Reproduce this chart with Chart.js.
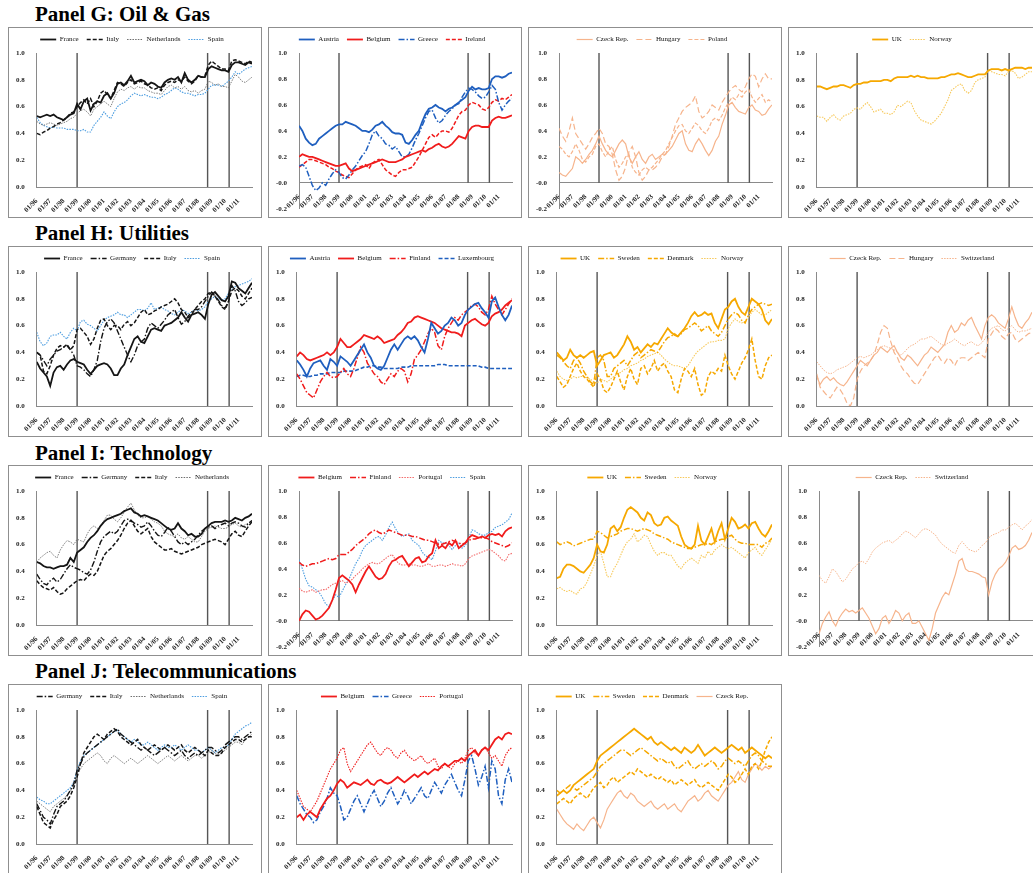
<!DOCTYPE html>
<html>
<head>
<meta charset="utf-8">
<script src="https://cdn.jsdelivr.net/npm/chart.js@4.4.1/dist/chart.umd.min.js"></script>
<style>
body{margin:0;background:#fff;width:1033px;height:873px;overflow:hidden;position:relative;font-family:"Liberation Serif",serif}
.title{position:absolute;left:35px;font-weight:bold;font-size:21px;color:#000;white-space:nowrap}
.box{position:absolute;width:254px;height:191px;border:1px solid #8f8f8f;box-sizing:border-box;background:#fff}
.box canvas{display:block}
</style>
</head>
<body>
<div class="title" style="top:2px">Panel G: Oil &amp; Gas</div>
<div class="title" style="top:221px">Panel H: Utilities</div>
<div class="title" style="top:441px">Panel I: Technology</div>
<div class="title" style="top:659px">Panel J: Telecommunications</div>

<div class="box" style="left:8px;top:27px"><canvas id="g1" width="252" height="189"></canvas></div>
<div class="box" style="left:268px;top:27px"><canvas id="g2" width="252" height="189"></canvas></div>
<div class="box" style="left:528px;top:27px"><canvas id="g3" width="252" height="189"></canvas></div>
<div class="box" style="left:788px;top:27px"><canvas id="g4" width="252" height="189"></canvas></div>
<div class="box" style="left:8px;top:246px"><canvas id="h1" width="252" height="189"></canvas></div>
<div class="box" style="left:268px;top:246px"><canvas id="h2" width="252" height="189"></canvas></div>
<div class="box" style="left:528px;top:246px"><canvas id="h3" width="252" height="189"></canvas></div>
<div class="box" style="left:788px;top:246px"><canvas id="h4" width="252" height="189"></canvas></div>
<div class="box" style="left:8px;top:465px"><canvas id="i1" width="252" height="189"></canvas></div>
<div class="box" style="left:268px;top:465px"><canvas id="i2" width="252" height="189"></canvas></div>
<div class="box" style="left:528px;top:465px"><canvas id="i3" width="252" height="189"></canvas></div>
<div class="box" style="left:788px;top:465px"><canvas id="i4" width="252" height="189"></canvas></div>
<div class="box" style="left:8px;top:684px"><canvas id="j1" width="252" height="189"></canvas></div>
<div class="box" style="left:268px;top:684px"><canvas id="j2" width="252" height="189"></canvas></div>
<div class="box" style="left:528px;top:684px"><canvas id="j3" width="252" height="189"></canvas></div>

<script>
//quarterly observations, 01/96 .. 01/12 (years since 01/96)
var quarters = [];
for (var q = 0; q <= 64; q++) { quarters.push(q / 4); }
var yearLabels = ["01/96","01/97","01/98","01/99","01/00","01/01","01/02","01/03","01/04","01/05","01/06","01/07","01/08","01/09","01/10","01/11"];
//01/99 euro, 09/08 Lehman, 04/10 Greek crisis
var eventDates = [3, 12.7, 14.3];

//- PANEL G: OIL & GAS -
var goFrance = [.53,.52,.53,.54, .53,.54,.52,.51, .50,.52,.54,.55, .62,.58,.64,.66, .57,.62,.64,.63, .68,.70,.66,.70, .77,.78,.76,.79, .83,.78,.79,.80, .79,.76,.78,.77, .75,.74,.78,.80, .81,.80,.82,.78, .85,.80,.78,.80, .83,.82,.82,.88, .90,.89,.88,.87, .87,.86,.91,.93, .93,.92,.91,.93, .92];
var goItaly = [.40,.39,.41,.42, .44,.45,.47,.48, .50,.52,.55,.56, .60,.63,.65,.62, .66,.60,.64,.70, .72,.69,.66,.72, .78,.77,.75,.78, .80,.77,.78,.79, .77,.76,.74,.73, .74,.72,.76,.78, .79,.78,.80,.79, .82,.79,.77,.79, .83,.82,.83,.91, .94,.92,.90,.88, .88,.87,.94,.95, .94,.93,.92,.94, .93];
var goNetherlands = [.49,.47,.46,.47, .48,.47,.46,.47, .48,.49,.51,.52, .55,.57,.58,.56, .53,.58,.60,.62, .64,.62,.60,.66, .71,.73,.72,.74, .75,.73,.75,.74, .74,.72,.71,.70, .70,.69,.72,.75, .76,.74,.75,.73, .75,.72,.71,.72, .70,.72,.73,.79, .78,.76,.77,.75, .75,.74,.79,.84, .82,.79,.78,.80, .82];
var goSpain = [.52,.48,.46,.45, .44,.45,.44,.44, .44,.43,.43,.43, .42,.42,.43,.41, .41,.46,.49,.52, .56,.53,.51,.56, .60,.62,.63,.65, .68,.70,.69,.68, .69,.68,.67,.67, .66,.67,.69,.70, .72,.74,.73,.71, .70,.70,.69,.68, .69,.69,.70,.73, .76,.76,.76,.75, .77,.79,.82,.86, .84,.86,.88,.89, .90];
var goAustria = [.44,.40,.34,.31, .29,.30,.34,.36, .38,.40,.42,.44, .45,.45,.47,.46, .45,.44,.42,.40, .40,.39,.41,.44, .45,.47,.44,.42, .39,.38,.38,.37, .31,.30,.33,.37, .40,.47,.53,.57, .58,.60,.58,.57, .55,.57,.58,.60, .62,.64,.66,.71, .74,.72,.73,.72, .72,.73,.80,.82, .82,.81,.82,.84, .85];
var goBelgium = [.20,.22,.21,.20, .20,.19,.18,.17, .16,.15,.14,.13, .13,.14,.15,.11, .09,.10,.11,.12, .13,.14,.15,.16, .17,.18,.17,.16, .16,.16,.17,.18, .20,.21,.22,.23, .24,.25,.24,.26, .27,.29,.30,.28, .27,.28,.30,.33, .36,.35,.34,.40, .43,.44,.44,.43, .43,.43,.48,.50, .51,.50,.50,.51, .52];
var goGreece = [.13,.14,.12,.05, -.02,-.06,-.04,.00, -.02,.03,.07,.10, .08,.04,.03,.06, .10,.13,.17,.21, .24,.30,.37,.40, .36,.34,.30,.29, .26,.28,.24,.20, .20,.22,.27,.33, .38,.44,.50,.55, .56,.50,.46,.48, .52,.55,.57,.60, .61,.66,.70,.73, .72,.70,.67,.65, .66,.70,.75,.72, .62,.56,.60,.63, .65];
var goIreland = [.12,.14,.16,.18, .18,.17,.16,.15, .14,.12,.11,.09, .08,.06,.05,.04, .07,.10,.12,.13, .14,.11,.15,.17, .18,.14,.10,.08, .06,.05,.08,.10, .10,.11,.12,.16, .20,.25,.30,.35, .37,.35,.38,.40, .40,.39,.42,.47, .52,.55,.56,.60, .62,.61,.60,.57, .56,.58,.62,.64, .63,.65,.64,.66, .68];
var goCzech = [.08,.06,.05,.08, .11,.20,.18,.15, .18,.22,.25,.30, .36,.30,.25,.22, .20,.25,.30,.33, .30,.20,.15,.20, .24,.18,.15,.20, .22,.18,.20,.22, .22,.25,.28,.33, .38,.40,.30,.25, .24,.30,.34,.30, .25,.21,.25,.32, .36,.45,.52,.60, .62,.58,.55,.54, .53,.58,.60,.56, .55,.52,.53,.57, .60];
var goHungary = [.42,.36,.32,.40, .50,.38,.34,.30, .26,.30,.35,.38, .42,.38,.30,.28, .22,.10,.02,.05, .12,.24,.28,.20, .08,.02,.05,.10, .10,.12,.15,.20, .22,.28,.36,.45, .50,.55,.58,.60, .62,.67,.55,.50, .52,.55,.60,.58, .56,.62,.66,.70, .73,.75,.72,.70, .74,.80,.84,.82, .74,.80,.84,.80, .80];
var goPoland = [.28,.26,.22,.20, .24,.30,.25,.18, .16,.20,.22,.28, .30,.24,.20,.25, .28,.18,.12,.15, .20,.22,.12,.08, .06,.10,.12,.10, .12,.15,.18,.22, .25,.30,.35,.40, .44,.45,.40,.38, .42,.46,.44,.40, .38,.42,.48,.50, .48,.52,.58,.62, .66,.64,.68,.66, .70,.72,.66,.62, .65,.68,.62,.64, .62];
var goUK = [.75,.75,.74,.73, .74,.75,.75,.76, .76,.75,.74,.76, .77,.77,.78,.78, .79,.79,.79,.79, .80,.80,.79,.81, .82,.82,.82,.82, .83,.82,.83,.82, .82,.81,.81,.81, .81,.82,.82,.83, .84,.84,.85,.84, .83,.82,.82,.83, .84,.84,.84,.87, .88,.88,.88,.87, .88,.87,.88,.89, .89,.89,.88,.89, .89];
var goNorway = [.53,.52,.52,.49, .52,.54,.51,.50, .53,.54,.55,.58, .59,.58,.61,.63, .60,.56,.57,.58, .55,.55,.54,.56, .61,.60,.62,.64, .63,.57,.53,.50, .49,.48,.47,.49, .52,.55,.60,.65, .72,.74,.76,.77, .72,.70,.72,.78, .80,.81,.82,.87, .86,.85,.84,.84, .83,.86,.87,.85, .81,.82,.84,.86, .86];

//- PANEL H: UTILITIES -
var utFrance = [.33,.28,.25,.22, .15,.25,.29,.30, .27,.31,.34,.35, .33,.32,.31,.27, .24,.27,.30,.31, .32,.31,.28,.23, .23,.28,.31,.38, .44,.50,.52,.48, .47,.52,.57,.58, .57,.56,.60,.61, .62,.64,.66,.70, .66,.63,.68,.69, .70,.68,.65,.76, .83,.85,.82,.79, .78,.82,.93,.92, .88,.86,.84,.88, .92];
var utGermany = [.40,.38,.34,.30, .35,.38,.41,.42, .44,.45,.42,.38, .30,.29,.27,.24, .22,.27,.34,.48, .58,.63,.65,.62, .56,.50,.44,.38, .33,.38,.45,.48, .50,.58,.62,.60, .58,.61,.64,.68, .70,.72,.66,.61, .63,.67,.70,.72, .72,.74,.78,.82, .85,.82,.79,.75, .73,.78,.90,.86, .78,.75,.77,.80, .81];
var utItaly = [.40,.38,.26,.24, .30,.38,.43,.45, .44,.46,.42,.45, .57,.58,.55,.52, .46,.50,.58,.64, .65,.60,.57,.60, .60,.57,.61,.63, .60,.62,.66,.70, .72,.68,.69,.71, .72,.74,.75,.76, .78,.80,.77,.72, .70,.66,.68,.72, .75,.78,.80,.84, .85,.82,.78,.74, .72,.78,.86,.88, .86,.82,.80,.84, .88];
var utSpain = [.55,.48,.45,.47, .52,.53,.53,.55, .52,.50,.55,.58, .56,.63,.64,.61, .60,.58,.56,.60, .64,.66,.67,.68, .70,.68,.68,.66, .68,.70,.72,.72, .71,.73,.77,.72, .73,.74,.72,.71, .69,.68,.70,.72, .71,.69,.70,.72, .71,.72,.74,.78, .80,.82,.80,.79, .80,.84,.88,.89, .90,.91,.92,.93, .95];
var utAustria = [.34,.31,.27,.22, .28,.32,.33,.34, .30,.27,.35,.33, .30,.37,.35,.33, .30,.34,.38,.42, .46,.40,.36,.30, .28,.27,.30,.36, .42,.46,.42,.46, .50,.52,.50,.52, .49,.44,.40,.50, .62,.58,.54,.56, .60,.62,.66,.64, .60,.62,.68,.72, .74,.76,.77,.73, .70,.66,.78,.81, .74,.68,.64,.68, .75];
var utBelgium = [.37,.40,.38,.35, .34,.35,.36,.37, .38,.40,.38,.40, .44,.50,.47,.44, .44,.46,.48,.50, .53,.52,.51,.50, .52,.50,.47,.48, .49,.50,.53,.55, .58,.62,.63,.66, .67,.66,.65,.64, .63,.62,.60,.58, .57,.56,.55,.55, .54,.52,.60,.62, .64,.65,.63,.61, .60,.62,.67,.69, .70,.72,.75,.77, .79];
var utFinland = [.24,.20,.15,.10, .08,.06,.12,.18, .22,.25,.22,.21, .22,.25,.28,.24, .22,.28,.36,.44, .40,.32,.28,.24, .22,.18,.16,.20, .24,.22,.26,.28, .26,.18,.24,.35, .38,.42,.48,.54, .58,.55,.45,.42, .52,.58,.62,.66, .64,.68,.70,.72, .75,.76,.74,.70, .68,.72,.82,.76, .72,.68,.72,.76, .80];
var utLuxembourg = [.22,.23,.23,.22, .22,.23,.23,.24, .24,.24,.25,.25, .25,.25,.26,.26, .26,.26,.27,.28, .29,.29,.30,.30, .29,.29,.28,.28, .28,.28,.28,.29, .29,.29,.30,.30, .30,.30,.30,.30, .30,.30,.31,.31, .31,.30,.30,.30, .30,.30,.30,.30, .30,.30,.30,.29, .29,.28,.28,.28, .28,.28,.28,.28, .28];
var utUK = [.40,.37,.34,.36, .42,.38,.36,.38, .36,.38,.40,.41, .30,.34,.38,.39, .40,.36,.38,.42, .46,.52,.48,.42, .44,.40,.43,.46, .44,.47,.46,.50, .54,.58,.55,.53, .52,.55,.58,.62, .67,.70,.67,.68, .70,.68,.69,.62, .58,.65,.72,.74, .78,.80,.74,.70, .68,.74,.80,.78, .76,.72,.64,.61, .65];
var utSweden = [.38,.36,.33,.30, .28,.34,.36,.32, .26,.22,.18,.16, .36,.38,.34,.22, .22,.28,.30,.32, .34,.30,.34,.38, .40,.36,.38,.40, .42,.41,.40,.44, .48,.51,.52,.54, .52,.54,.57,.58, .60,.62,.60,.56, .58,.60,.56,.54, .52,.55,.60,.65, .68,.70,.68,.64, .62,.68,.72,.74, .76,.77,.76,.75, .76];
var utDenmark = [.22,.18,.14,.16, .22,.28,.32,.26, .22,.20,.17,.14, .24,.20,.12,.10, .14,.20,.26,.18, .12,.22,.28,.20, .16,.28,.30,.24, .28,.34,.26,.30, .32,.26,.22,.12, .10,.20,.28,.26, .22,.28,.16,.08, .10,.22,.26,.24, .28,.26,.38,.30, .24,.20,.26,.32, .36,.42,.50,.34, .22,.20,.30,.36, .38];
var utNorway = [.26,.22,.20,.19, .20,.22,.21,.22, .22,.21,.20,.18, .17,.20,.19,.18, .20,.22,.24,.25, .27,.28,.30,.31, .32,.34,.35,.37, .38,.39,.40,.38, .35,.33,.31,.30, .30,.29,.28,.30, .34,.38,.41,.43, .45,.47,.48,.48, .49,.49,.50,.58, .62,.65,.63,.62, .63,.66,.70,.72, .70,.68,.68,.70, .72];
var utCzech = [.22,.16,.20,.22, .19,.21,.18,.16, .15,.18,.22,.26, .30,.34,.32,.30, .34,.38,.40,.44, .42,.40,.43,.45, .40,.36,.34,.38, .36,.33,.30,.34, .38,.40,.44,.42, .40,.43,.46,.55, .60,.55,.57,.62, .60,.64,.66,.60, .55,.50,.60,.66, .68,.66,.62,.60, .58,.65,.74,.66, .60,.58,.62,.65, .70];
var utHungary = [.24,.14,.11,.08, .06,.10,.14,.12, .08,.02,.00,.06, .20,.26,.30,.32, .34,.38,.46,.55, .60,.58,.48,.40, .36,.30,.26,.24, .20,.17,.16,.20, .24,.28,.32,.36, .38,.34,.32,.36, .34,.30,.35,.36, .36,.34,.36,.38, .40,.38,.36,.50, .54,.58,.56,.52, .50,.54,.55,.50, .48,.50,.52,.54, .55];
var utSwitzerland = [.33,.30,.27,.25, .24,.25,.27,.28, .29,.30,.32,.34, .36,.37,.36,.37, .38,.40,.42,.44, .45,.44,.43,.42, .40,.38,.40,.43, .45,.46,.48,.50, .50,.51,.52,.50, .48,.46,.45,.47, .48,.50,.48,.46, .45,.47,.48,.46, .45,.47,.50,.55, .58,.59,.60,.57, .56,.58,.60,.57, .55,.56,.56,.57, .58];

//- PANEL I: TECHNOLOGY -
var teFrance = [.47,.46,.44,.43, .43,.42,.43,.44, .44,.45,.50,.47, .54,.56,.58,.62, .65,.67,.70,.74, .77,.79,.80,.81, .82,.83,.85,.86, .87,.84,.83,.81, .82,.81,.80,.79, .78,.76,.74,.72, .71,.72,.76,.72, .70,.67,.68,.66, .66,.68,.72,.74, .76,.77,.77,.77, .78,.77,.78,.80, .79,.78,.80,.81, .83];
var teGermany = [.38,.34,.31,.30, .33,.35,.32,.34, .38,.42,.45,.43, .42,.41,.39,.38, .41,.47,.55,.62, .66,.68,.70,.68, .70,.74,.78,.79, .78,.76,.75,.73, .74,.77,.74,.70, .67,.66,.69,.73, .70,.66,.62,.60, .62,.60,.62,.64, .67,.70,.72,.73, .74,.72,.74,.75, .76,.74,.76,.77, .76,.74,.73,.76, .78];
var teItaly = [.33,.30,.28,.27, .26,.28,.25,.23, .24,.27,.29,.31, .33,.34,.33,.36, .38,.37,.40,.46, .52,.55,.57,.60, .63,.67,.72,.76, .78,.74,.70,.68, .70,.72,.66,.62, .60,.58,.56,.56, .57,.55,.54,.53, .54,.55,.56,.57, .58,.60,.61,.62, .63,.64,.63,.62, .60,.64,.68,.70, .67,.66,.70,.74, .77];
var teNetherlands = [.47,.50,.52,.54, .55,.52,.50,.56, .60,.63,.62,.60, .64,.63,.62,.68, .72,.74,.72,.74, .78,.82,.82,.79, .77,.80,.84,.88, .91,.86,.82,.80, .80,.81,.79,.77, .76,.74,.70,.68, .67,.66,.68,.65, .64,.66,.64,.62, .62,.66,.70,.72, .73,.74,.73,.72, .72,.73,.75,.76, .74,.73,.75,.76, .78];
var teBelgium = [.00,.05,.08,.07, .04,.01,.02,.04, .07,.10,.16,.24, .33,.35,.33,.31, .28,.22,.28,.33, .38,.42,.38,.34, .32,.33,.36,.42, .46,.47,.49,.50, .46,.42,.45,.48, .49,.45,.46,.50, .52,.62,.56,.58, .56,.60,.58,.62, .56,.58,.60,.64, .66,.65,.64,.65, .64,.66,.67,.66, .67,.65,.69,.71, .72];
var teFinland = [.45,.43,.42,.43, .44,.44,.45,.46, .47,.48,.47,.48, .51,.51,.51,.53, .55,.58,.60,.62, .64,.67,.69,.70, .68,.67,.68,.70, .69,.68,.67,.66, .66,.66,.65,.65, .64,.63,.62,.62, .61,.60,.59,.59, .60,.61,.62,.61, .60,.59,.60,.62, .63,.63,.64,.64, .64,.63,.61,.60, .59,.58,.57,.58, .60];
var tePortugal = [.25,.23,.22,.23, .24,.22,.23,.24, .24,.26,.28,.29, .30,.31,.29,.30, .32,.35,.37,.40, .42,.44,.45,.44, .44,.46,.48,.50, .51,.47,.44,.43, .43,.44,.43,.43, .42,.42,.43,.44, .42,.42,.43,.43, .42,.43,.44,.43, .43,.42,.44,.48, .50,.51,.52,.53, .54,.55,.54,.52, .50,.47,.46,.51, .52];
var teSpain = [.47,.40,.32,.27, .26,.24,.22,.18, .13,.11,.16,.20, .18,.23,.28,.32, .38,.44,.48,.54, .58,.60,.62,.64, .65,.62,.66,.72, .76,.71,.67,.65, .66,.67,.62,.60, .58,.53,.50,.49, .47,.54,.62,.60, .60,.58,.55,.58, .60,.56,.58,.64, .70,.69,.67,.66, .66,.68,.69,.72, .73,.74,.76,.78, .83];
var teUK = [.35,.36,.42,.45, .45,.44,.42,.40, .39,.42,.45,.50, .60,.55,.54,.60, .72,.74,.70,.73, .80,.86,.88,.86, .84,.80,.78,.84, .82,.76,.74,.75, .80,.81,.78,.76, .74,.66,.60,.58, .57,.60,.74,.63, .60,.66,.72,.62, .70,.76,.64,.72, .80,.77,.72,.73, .75,.72,.76,.77, .72,.68,.66,.70, .75];
var teSweden = [.62,.60,.61,.62, .61,.59,.60,.61, .62,.63,.64,.64, .70,.69,.67,.65, .66,.67,.68,.70, .71,.72,.72,.71, .70,.71,.72,.71, .70,.68,.67,.66, .65,.64,.62,.61, .60,.59,.58,.57, .57,.58,.59,.60, .60,.61,.60,.62, .63,.64,.64,.66, .67,.64,.62,.61, .61,.60,.60,.60, .60,.58,.61,.62, .65];
var teNorway = [.27,.28,.26,.25, .26,.24,.23,.27, .28,.32,.38,.44, .52,.55,.46,.36, .36,.42,.46,.52, .58,.62,.64,.68, .62,.64,.67,.66, .60,.55,.52,.54, .54,.52,.52,.48, .44,.42,.46,.48, .50,.48,.46,.52, .50,.55,.52,.56, .58,.60,.58,.57, .58,.56,.54,.52, .50,.54,.56,.58, .54,.52,.56,.60, .64];
var teCzech = [-.10,-.02,.03,.07, .00,-.04,.02,.06, .09,.07,.08,.06, .08,.10,.06,.02, -.04,-.10,-.06,.02, .04,-.02,.02,.08, .06,.00,.04,.06, -.02,-.02,.00,-.05, -.10,-.15,-.06,.06, .12,.18,.22,.20, .28,.36,.46,.48, .40,.38,.38,.37, .36,.34,.33,.20, .30,.36,.40,.42, .45,.50,.56,.58, .55,.56,.58,.62, .68];
var teSwitzerland = [.35,.31,.29,.34, .40,.38,.34,.30, .32,.36,.40,.42, .45,.46,.44,.48, .53,.56,.58,.60, .61,.62,.60,.62, .64,.67,.69,.68, .66,.64,.67,.70, .71,.70,.68,.66, .62,.59,.57,.55, .53,.52,.58,.61, .58,.55,.54,.53, .55,.58,.60,.64, .66,.67,.68,.70, .70,.72,.74,.75, .73,.70,.73,.75, .78];

//- PANEL J: TELECOMMUNICATIONS -
var tcGermany = [.30,.25,.20,.18, .15,.22,.28,.30, .32,.36,.40,.45, .55,.60,.65,.68, .70,.72,.74,.76, .78,.80,.82,.84, .86,.82,.80,.78, .76,.74,.72,.70, .72,.70,.68,.66, .68,.70,.72,.70, .68,.66,.68,.70, .66,.64,.66,.68, .66,.68,.70,.72, .72,.70,.68,.70, .74,.76,.78,.80, .80,.78,.80,.82, .84];
var tcItaly = [.28,.22,.16,.14, .12,.18,.22,.28, .30,.32,.36,.42, .50,.60,.68,.72, .76,.80,.82,.80, .78,.82,.84,.86, .84,.80,.78,.76, .74,.76,.78,.74, .72,.70,.72,.74, .72,.70,.72,.74, .72,.70,.72,.74, .70,.68,.70,.72, .70,.68,.66,.70, .68,.66,.66,.68, .72,.74,.76,.78, .78,.76,.78,.80, .80];
var tcNetherlands = [.32,.30,.28,.26, .24,.28,.30,.32, .34,.36,.40,.44, .52,.56,.60,.62, .64,.66,.68,.66, .62,.60,.64,.66, .64,.62,.60,.62, .64,.62,.60,.62, .64,.66,.64,.62, .60,.62,.64,.66, .64,.62,.64,.66, .64,.62,.64,.66, .66,.64,.66,.68, .70,.68,.66,.68, .70,.72,.74,.76, .76,.74,.78,.80, .82];
var tcSpain = [.35,.33,.32,.30, .30,.32,.34,.36, .38,.40,.42,.46, .55,.62,.66,.68, .70,.72,.74,.76, .78,.80,.82,.84, .85,.82,.80,.78, .76,.78,.76,.74, .74,.76,.74,.72, .70,.72,.74,.72, .72,.74,.72,.70, .72,.74,.72,.70, .70,.68,.70,.72, .70,.68,.70,.72, .72,.74,.78,.82, .84,.86,.88,.89, .91];
var tcBelgium = [.20,.22,.18,.22, .24,.22,.20,.26, .30,.34,.36,.40, .45,.48,.46,.42, .44,.46,.45,.44, .46,.48,.45,.44, .47,.48,.46,.45, .46,.48,.50,.48, .46,.48,.50,.52, .50,.52,.54,.52, .54,.56,.55,.58, .60,.58,.60,.62, .62,.64,.62,.66, .68,.70,.66,.70, .72,.70,.74,.78, .80,.78,.82,.83, .82];
var tcGreece = [.36,.30,.26,.22, .20,.16,.18,.24, .28,.34,.42,.38, .36,.28,.18,.20, .26,.32,.36,.30, .24,.30,.36,.40, .34,.28,.32,.38, .42,.36,.30,.34, .40,.36,.30,.34, .38,.42,.36,.34, .40,.46,.42,.38, .44,.48,.52,.46, .40,.36,.48,.62, .66,.56,.44,.50, .58,.42,.62,.56, .36,.30,.48,.56, .46];
var tcPortugal = [.40,.34,.28,.26, .24,.28,.32,.38, .44,.50,.56,.60, .64,.70,.72,.60, .54,.58,.62,.66, .70,.74,.76,.72, .68,.66,.70,.72, .70,.66,.64,.68, .70,.66,.64,.62, .64,.66,.62,.60, .62,.64,.58,.56, .60,.58,.56,.60, .62,.60,.64,.70, .72,.68,.66,.70, .72,.68,.64,.66, .62,.58,.66,.70, .72];
var tcUK = [.36,.38,.40,.38, .40,.44,.46,.48, .50,.52,.54,.56, .62,.66,.68,.70, .72,.74,.76,.78, .80,.82,.84,.86, .84,.82,.80,.78, .80,.76,.74,.76, .74,.72,.70,.72, .70,.68,.72,.70, .68,.70,.74,.70, .66,.68,.70,.72, .70,.68,.70,.72, .74,.72,.70,.72, .68,.70,.72,.70, .68,.66,.64,.66, .64];
var tcSweden = [.40,.38,.40,.42, .44,.42,.40,.42, .44,.46,.48,.50, .54,.58,.60,.62, .64,.66,.68,.70, .70,.68,.66,.68, .70,.72,.70,.68, .66,.64,.62,.64, .62,.60,.62,.58, .56,.58,.60,.62, .58,.56,.58,.60, .58,.60,.62,.60, .56,.58,.62,.64, .62,.60,.62,.60, .58,.62,.66,.68, .66,.62,.60,.58, .58];
var tcDenmark = [.30,.32,.34,.32, .30,.34,.36,.38, .36,.34,.38,.42, .44,.46,.42,.44, .48,.50,.46,.48, .50,.52,.54,.52, .56,.54,.52,.50, .52,.50,.48,.50, .48,.46,.48,.44, .46,.48,.46,.44, .46,.48,.44,.42, .44,.46,.44,.42, .40,.44,.48,.52, .50,.46,.48,.52, .56,.52,.58,.60, .56,.62,.70,.76, .80];
var tcCzech = [.26,.22,.18,.15, .13,.11,.15,.12, .10,.14,.18,.20, .16,.12,.18,.26, .30,.34,.38,.40, .36,.34,.38,.36, .32,.30,.28,.30, .32,.28,.26,.28, .30,.26,.28,.30, .26,.24,.28,.32, .34,.36,.32,.34, .38,.40,.36,.34, .32,.36,.40,.44, .46,.50,.54,.48, .46,.52,.56,.60, .58,.55,.58,.56, .58];

//line styles
var DOT = [1.5, 1.2];
var DASH = [4, 2];
var LONGDASH = [6, 3];
var DASHDOT = [6, 2, 1.5, 2];
var BLACK = "#151515", GREY = "#6e6e6e", SKY = "#4c9de0", BLUE = "#1f5fbf", RED = "#f01c1c", PINK = "#f36a6a";
var ORANGE = "#f6a800", GOLD = "#f7c95a", PEACH = "#f6b48c";

function line(label, values, color, width, dash) {
    var pts = [];
    for (var i = 0; i < quarters.length; i++) {
        pts.push({ x: quarters[i], y: values[i] });
    }
    return { label: label, data: pts, borderColor: color, borderWidth: width, borderDash: dash || [], pointRadius: 0, tension: 0, fill: false };
}

//legend samples drawn with the dataset's own line style
function legendItems(chart) {
    var items = [];
    chart.data.datasets.forEach(function(ds, i) {
        if (ds.isMarker) return;
        items.push({
            text: ds.label,
            datasetIndex: i,
            fillStyle: ds.borderColor,
            strokeStyle: ds.borderColor,
            lineWidth: Math.max(ds.borderWidth, 1.2),
            lineDash: ds.borderDash,
            pointStyle: "line",
            fontColor: "#111",
            hidden: false
        });
    });
    return items;
}

function makePanel(id, yMin, series) {
    var datasets = series.slice();
    //event lines
    for (var k = 0; k < eventDates.length; k++) {
        datasets.push({
            label: "", isMarker: true,
            data: [{ x: eventDates[k], y: 0 }, { x: eventDates[k], y: 1 }],
            borderColor: "#555", borderWidth: 1.4, pointRadius: 0, fill: false
        });
    }
    var tickFont = { family: "Liberation Serif", size: 7, weight: "bold" };
    var below = yMin < 0;
    new Chart(document.getElementById(id).getContext("2d"), {
        type: "line",
        data: { datasets: datasets },
        options: {
            responsive: false,
            animation: false,
            devicePixelRatio: 1,
            events: [],
            layout: { padding: { left: 3, right: 9, top: 0, bottom: below ? 7 : 0 } },
            plugins: {
                tooltip: { enabled: false },
                legend: {
                    display: true,
                    position: "top",
                    labels: {
                        usePointStyle: true,
                        pointStyle: "line",
                        pointStyleWidth: 16,
                        padding: 8,
                        color: "#111",
                        font: { family: "Liberation Serif", size: 7 },
                        generateLabels: legendItems
                    }
                }
            },
            scales: {
                x: {
                    type: "linear",
                    min: 0,
                    max: 16,
                    position: below ? { y: 0 } : "bottom",
                    grid: { display: false },
                    border: { display: true, color: "#8a8a8a", width: 1 },
                    afterFit: function(scale) { scale.height = below ? 0 : 30; },
                    ticks: {
                        stepSize: 1,
                        autoSkip: false,
                        maxRotation: 45,
                        minRotation: 45,
                        padding: 2,
                        color: "#222",
                        font: tickFont,
                        callback: function(v) {
                            return yearLabels[Math.round(v)] || "";
                        }
                    }
                },
                y: {
                    min: yMin,
                    max: 1,
                    grid: { display: false },
                    border: { display: true, color: "#8a8a8a", width: 1 },
                    ticks: {
                        stepSize: 0.2,
                        padding: 4,
                        color: "#222",
                        font: tickFont,
                        callback: function(v) { return v.toFixed(1); }
                    }
                }
            }
        }
    });
}

//- PANEL G -
makePanel("g1", 0, [
    line("France", goFrance, BLACK, 1.8),
    line("Italy", goItaly, BLACK, 1.5, DASH),
    line("Netherlands", goNetherlands, GREY, 0.9, DOT),
    line("Spain", goSpain, SKY, 1.1, DOT)
]);
makePanel("g2", -0.2, [
    line("Austria", goAustria, BLUE, 1.8),
    line("Belgium", goBelgium, RED, 1.8),
    line("Greece", goGreece, BLUE, 1.5, DASHDOT),
    line("Ireland", goIreland, RED, 1.5, DASH)
]);
makePanel("g3", -0.2, [
    line("Czeck Rep.", goCzech, PEACH, 1.2),
    line("Hungary", goHungary, PEACH, 1.2, LONGDASH),
    line("Poland", goPoland, PEACH, 1.2, DASH)
]);
makePanel("g4", 0, [
    line("UK", goUK, ORANGE, 1.8),
    line("Norway", goNorway, GOLD, 1.1, DOT)
]);

//- PANEL H -
makePanel("h1", 0, [
    line("France", utFrance, BLACK, 1.8),
    line("Germany", utGermany, BLACK, 1.4, DASHDOT),
    line("Italy", utItaly, BLACK, 1.5, DASH),
    line("Spain", utSpain, SKY, 1.1, DOT)
]);
makePanel("h2", 0, [
    line("Austria", utAustria, BLUE, 1.8),
    line("Belgium", utBelgium, RED, 1.8),
    line("Finland", utFinland, RED, 1.5, DASHDOT),
    line("Luxembourg", utLuxembourg, BLUE, 1.6, DASH)
]);
makePanel("h3", 0, [
    line("UK", utUK, ORANGE, 1.8),
    line("Sweden", utSweden, ORANGE, 1.5, DASHDOT),
    line("Denmark", utDenmark, ORANGE, 1.5, DASH),
    line("Norway", utNorway, GOLD, 1.1, DOT)
]);
makePanel("h4", 0, [
    line("Czeck Rep.", utCzech, PEACH, 1.2),
    line("Hungary", utHungary, PEACH, 1.2, LONGDASH),
    line("Switzerland", utSwitzerland, PEACH, 1, DOT)
]);

//- PANEL I -
makePanel("i1", 0, [
    line("France", teFrance, BLACK, 1.8),
    line("Germany", teGermany, BLACK, 1.4, DASHDOT),
    line("Italy", teItaly, BLACK, 1.5, DASH),
    line("Netherlands", teNetherlands, GREY, 0.9, DOT)
]);
makePanel("i2", -0.2, [
    line("Belgium", teBelgium, RED, 1.8),
    line("Finland", teFinland, RED, 1.5, DASHDOT),
    line("Portugal", tePortugal, PINK, 1.1, DOT),
    line("Spain", teSpain, SKY, 1.1, DOT)
]);
makePanel("i3", 0, [
    line("UK", teUK, ORANGE, 1.8),
    line("Sweden", teSweden, ORANGE, 1.5, DASHDOT),
    line("Norway", teNorway, GOLD, 1.1, DOT)
]);
makePanel("i4", -0.2, [
    line("Czeck Rep.", teCzech, PEACH, 1.2),
    line("Switzerland", teSwitzerland, PEACH, 1, DOT)
]);

//- PANEL J -
makePanel("j1", 0, [
    line("Germany", tcGermany, BLACK, 1.4, DASHDOT),
    line("Italy", tcItaly, BLACK, 1.5, DASH),
    line("Netherlands", tcNetherlands, GREY, 0.9, DOT),
    line("Spain", tcSpain, SKY, 1.1, DOT)
]);
makePanel("j2", 0, [
    line("Belgium", tcBelgium, RED, 1.8),
    line("Greece", tcGreece, BLUE, 1.5, DASHDOT),
    line("Portugal", tcPortugal, RED, 1.1, DOT)
]);
makePanel("j3", 0, [
    line("UK", tcUK, ORANGE, 1.8),
    line("Sweden", tcSweden, ORANGE, 1.5, DASHDOT),
    line("Denmark", tcDenmark, ORANGE, 1.5, DASH),
    line("Czeck Rep.", tcCzech, PEACH, 1.2)
]);
</script>
</body>
</html>
